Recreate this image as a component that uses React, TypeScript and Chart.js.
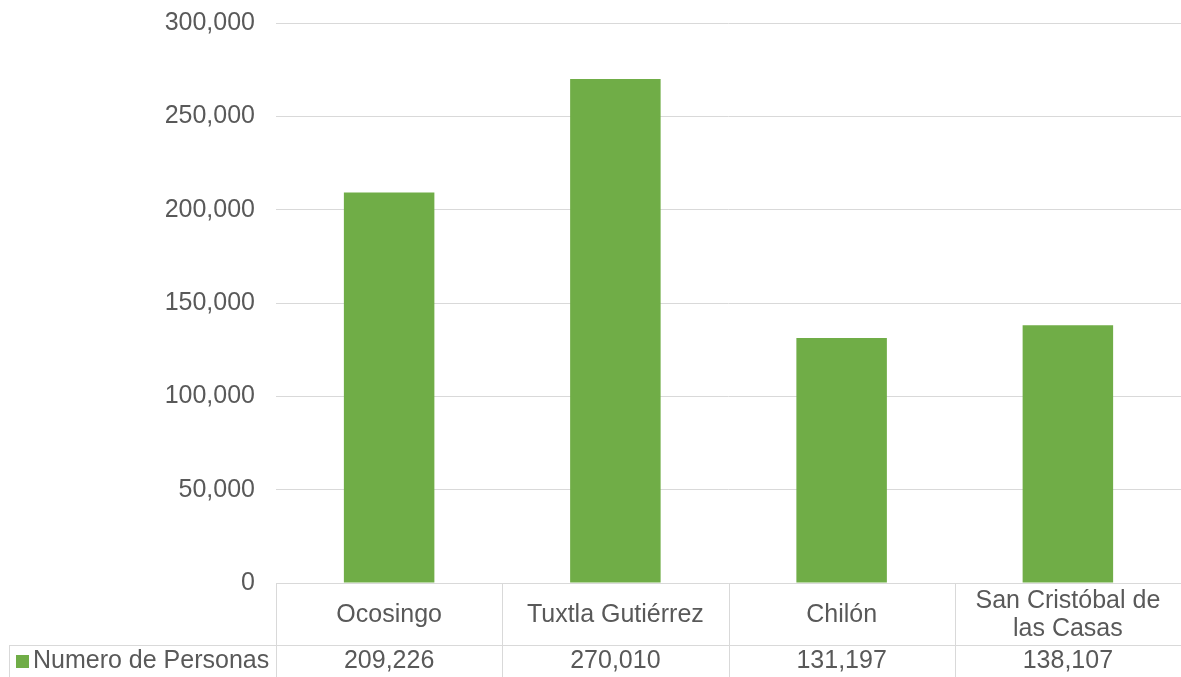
import { useEffect, useRef } from 'react';
import { Chart, registerables } from 'chart.js';

Chart.register(...registerables);

// Población por municipio
const categories = ['Ocosingo', 'Tuxtla Gutiérrez', 'Chilón', 'San Cristóbal de las Casas'];
const seriesName = 'Numero de Personas';
const personas = [209226, 270010, 131197, 138107];
const yTicks = [0, 50000, 100000, 150000, 200000, 250000, 300000];

const FONT = '"Liberation Sans", Arial, Helvetica, sans-serif';
const TEXT_COLOR = '#595959';
const RULE_COLOR = '#D9D9D9';
const BAR_COLOR = '#70AD47';
const FONT_SIZE = 25;

const fmt = (v: number) => Number(v).toLocaleString('en-US');

// Split a label into lines that fit the given width
function wrapText(ctx: CanvasRenderingContext2D, text: string, maxWidth: number): string[] {
  const words = text.split(' ');
  const lines: string[] = [];
  let current = '';
  for (const w of words) {
    const test = current ? current + ' ' + w : w;
    if (current && ctx.measureText(test).width > maxWidth) {
      lines.push(current);
      current = w;
    } else {
      current = test;
    }
  }
  if (current) lines.push(current);
  return lines;
}

// Data table under the plot: category row + value row with legend key
const dataTablePlugin = {
  id: 'dataTable',
  afterDraw(chart: any) {
    const { ctx, chartArea } = chart;
    const xScale = chart.scales.x;
    const labels: string[] = chart.data.labels;
    const values: number[] = chart.data.datasets[0].data;
    const n = labels.length;
    const colW = (chartArea.right - chartArea.left) / n;
    const top = chartArea.bottom;
    const rowSplit = top + 62;
    const bottom = chart.height;
    const tableLeft = 9;
    const snap = (v: number) => Math.round(v) + 0.5;

    ctx.save();
    ctx.strokeStyle = RULE_COLOR;
    ctx.lineWidth = 1;
    ctx.beginPath();
    ctx.moveTo(chartArea.left, snap(top));
    ctx.lineTo(chartArea.right, snap(top));
    ctx.moveTo(tableLeft, snap(rowSplit));
    ctx.lineTo(chartArea.right, snap(rowSplit));
    ctx.moveTo(snap(tableLeft), rowSplit);
    ctx.lineTo(snap(tableLeft), bottom);
    for (let i = 0; i < n; i++) {
      const bx = snap(xScale.getPixelForValue(i) - colW / 2);
      ctx.moveTo(bx, top);
      ctx.lineTo(bx, bottom);
    }
    ctx.stroke();

    ctx.font = `${FONT_SIZE}px ${FONT}`;
    ctx.fillStyle = TEXT_COLOR;
    ctx.textAlign = 'center';
    ctx.textBaseline = 'alphabetic';

    const catBaseline = 622;
    const lineHeight = 28;
    for (let i = 0; i < n; i++) {
      const cx = xScale.getPixelForValue(i);
      const lines = wrapText(ctx, labels[i], colW - 16);
      const first = catBaseline - ((lines.length - 1) * lineHeight) / 2;
      lines.forEach((ln, k) => ctx.fillText(ln, cx, first + k * lineHeight));
      ctx.fillText(fmt(values[i]), cx, 668);
    }

    // legend key + series name
    ctx.fillStyle = BAR_COLOR;
    ctx.fillRect(16, 655, 13, 13);
    ctx.fillStyle = TEXT_COLOR;
    ctx.textAlign = 'left';
    ctx.fillText(chart.data.datasets[0].label, 33, 668);
    ctx.restore();
  },
};

export default function App() {
  const canvasRef = useRef<HTMLCanvasElement | null>(null);

  useEffect(() => {
    if (!canvasRef.current) return;
    const chart = new Chart(canvasRef.current, {
      type: 'bar',
      data: {
        labels: categories,
        datasets: [
          {
            label: seriesName,
            data: personas,
            backgroundColor: BAR_COLOR,
            borderWidth: 0,
            categoryPercentage: 1,
            barPercentage: 0.4,
          },
        ],
      },
      options: {
        animation: false,
        responsive: false,
        layout: { padding: { top: 23, bottom: 94, left: 0, right: 0 } },
        plugins: {
          legend: { display: false },
          tooltip: { enabled: false },
        },
        scales: {
          x: { display: false },
          y: {
            min: 0,
            max: 300000,
            afterBuildTicks: (scale: any) => {
              scale.ticks = yTicks.map((v) => ({ value: v }));
            },
            afterFit: (scale: any) => {
              scale.width = 276;
              scale.paddingTop = 0;
              scale.paddingBottom = 0;
            },
            ticks: {
              color: TEXT_COLOR,
              font: { family: FONT, size: FONT_SIZE },
              padding: 21,
              callback: (v: any) => fmt(v),
            },
            grid: { color: RULE_COLOR, drawTicks: false, lineWidth: 1 },
            border: { display: false },
          },
        },
      },
      plugins: [dataTablePlugin],
    });
    return () => chart.destroy();
  }, []);

  return (
    <div style={{ position: 'absolute', left: 0, top: 0, width: 1181, height: 677, background: '#ffffff' }}>
      <canvas ref={canvasRef} width={1181} height={677} style={{ display: 'block' }} />
    </div>
  );
}
